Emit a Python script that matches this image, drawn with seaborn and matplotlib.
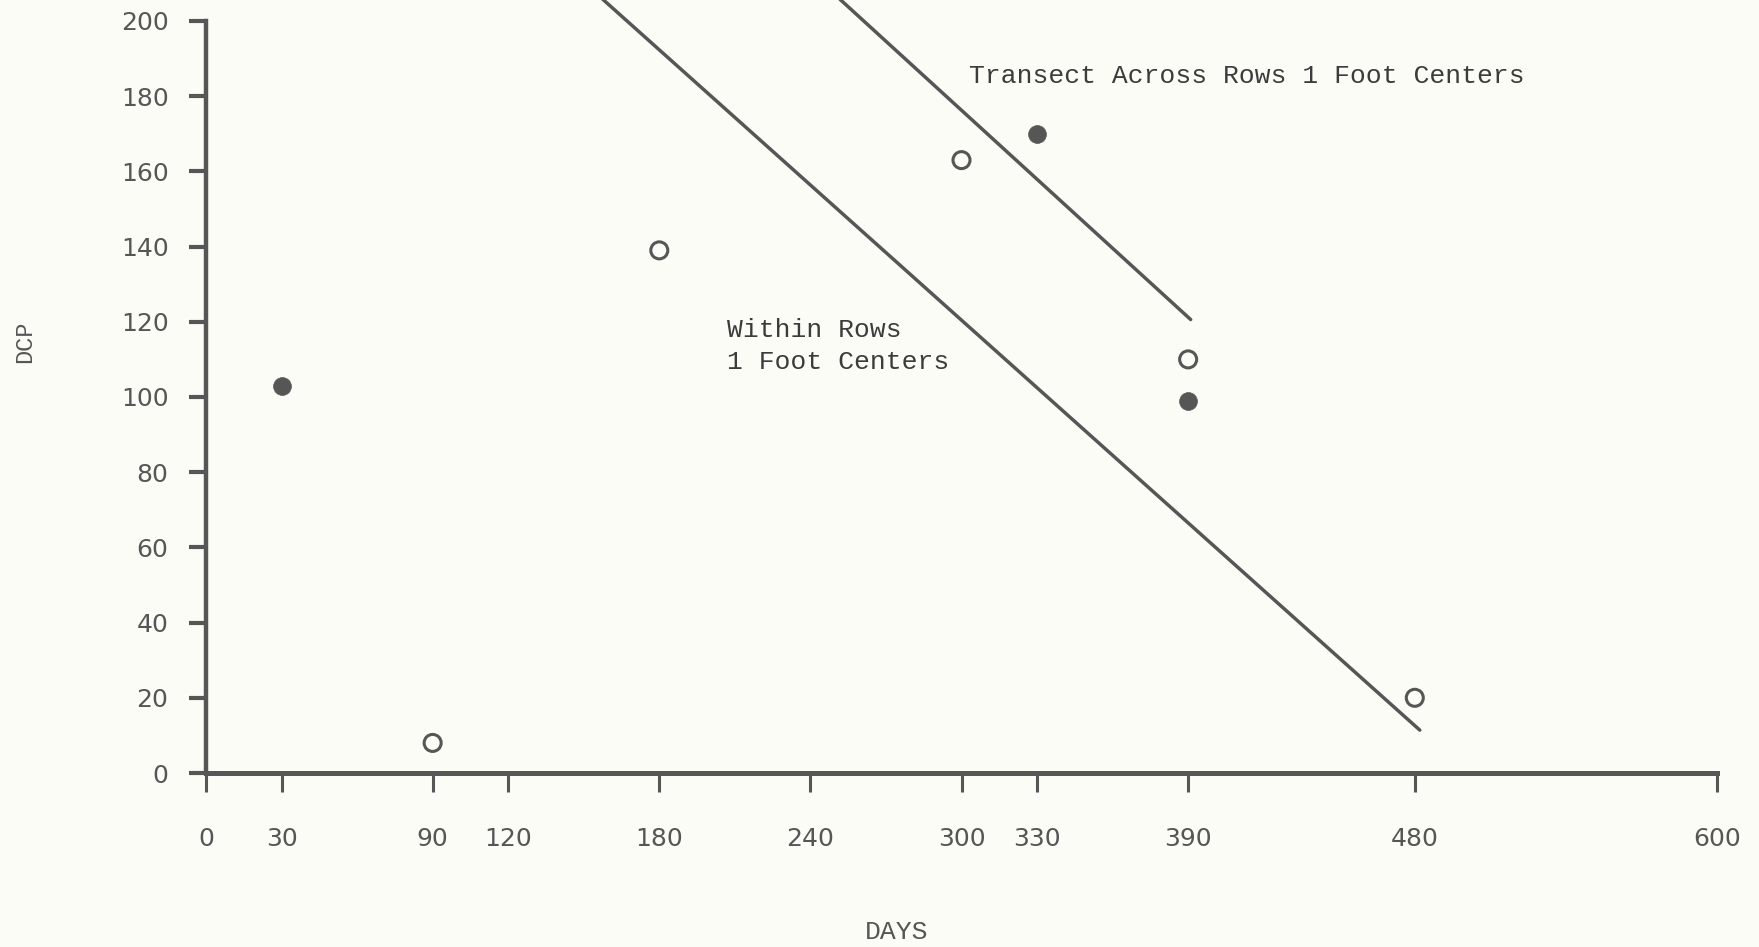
import numpy as np
import pandas as pd
import matplotlib
matplotlib.use("Agg")
import matplotlib.pyplot as plt
import seaborn as sns

# ---- data ----
open_days = [90, 180, 300, 390, 480]
open_dcp = [8, 139, 163, 110, 20]
filled_days = [30, 330, 390]
filled_dcp = [103, 170, 99]

within_line_days = [150, 482]
within_line_dcp = [210.3, 11.4]
across_line_days = [245, 391]
across_line_dcp = [209.9, 120.6]

x_ticks = [0, 30, 90, 120, 180, 240, 300, 330, 390, 480, 600]
y_ticks = [0, 20, 40, 60, 80, 100, 120, 140, 160, 180, 200]

label_within = "Within Rows\n1 Foot Centers"
label_across = "Transect Across Rows 1 Foot Centers"
x_title = "DAYS"
y_title = "DCP"

# ---- style ----
sns.set_style("white")
plt.rcParams['font.family'] = ['DejaVu Sans']

INK = '#565656'
TXT = '#3c3c3c'
BG = '#fcfcf6'
W, H = 1759, 947

fig = plt.figure(figsize=(W / 100, H / 100), dpi=100, facecolor=BG)
x0_px, x1_px, y0_px = 206, 1717, 773
ax = fig.add_axes([x0_px / W, (H - y0_px) / H, (x1_px - x0_px) / W, y0_px / H])
ax.set_facecolor(BG)

px_per_unit = (y0_px - 21) / 200.0
ax.set_xlim(0, 600)
ax.set_ylim(0, y0_px / px_per_unit)

# fitted lines
sns.lineplot(x=within_line_days, y=within_line_dcp, color=INK, lw=2.5, ax=ax,
             estimator=None, sort=False)
sns.lineplot(x=across_line_days, y=across_line_dcp, color=INK, lw=2.5, ax=ax,
             estimator=None, sort=False)

# points
sns.scatterplot(x=filled_days, y=filled_dcp, marker='o', s=165, color=INK,
                edgecolor=INK, linewidth=0.5, ax=ax, zorder=3)
ax.scatter(open_days, open_dcp, marker='o', s=150, facecolors='none',
           edgecolors=INK, linewidths=2.2, zorder=3)

# spines
for s in ['top', 'right']:
    ax.spines[s].set_visible(False)
ax.spines['left'].set_bounds(0, 200)
ax.spines['left'].set_linewidth(3.2)
ax.spines['bottom'].set_linewidth(3.6)
ax.spines['left'].set_color(INK)
ax.spines['bottom'].set_color(INK)

ax.set_xticks(x_ticks)
ax.set_xticklabels([str(v) for v in x_ticks])
ax.set_yticks(y_ticks)
ax.set_yticklabels([str(v) for v in y_ticks])
ax.tick_params(axis='x', bottom=True, direction='out', length=14, width=2.2,
               color=INK, pad=25, labelsize=18, labelcolor=INK)
ax.tick_params(axis='y', left=True, direction='out', length=12, width=3,
               color=INK, pad=15, labelsize=18, labelcolor=INK)

# annotations
ax.text(303, 185.5, label_across, family='Liberation Mono', fontsize=19,
        color=TXT, ha='left', va='center')
ax.text(207, 113.5, label_within, family='Liberation Mono', fontsize=19,
        color=TXT, ha='left', va='center', linespacing=1.4)

fig.text(25 / W, 1 - 342 / H, y_title, family='Liberation Mono', fontsize=17,
         color=INK, rotation=90, ha='center', va='center')
fig.text(897 / W, 1 - 932 / H, x_title, family='Liberation Mono', fontsize=19,
         color=INK, ha='center', va='center')

fig.savefig('out.png', dpi=100, facecolor=BG)
